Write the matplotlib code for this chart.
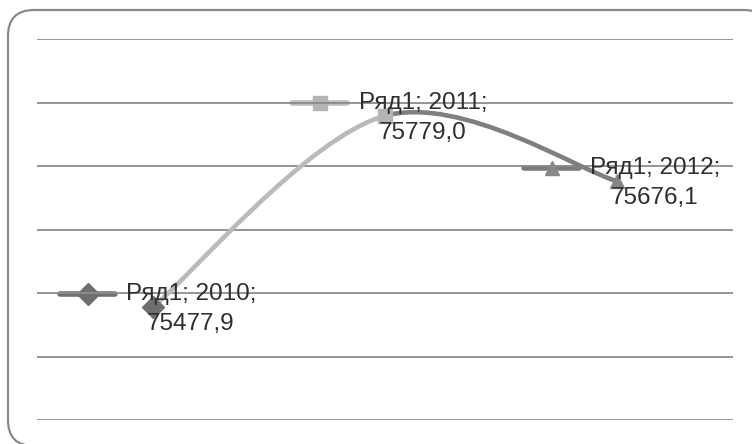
import numpy as np
import matplotlib.pyplot as plt
from matplotlib.path import Path
from matplotlib.patches import PathPatch, FancyBboxPatch
from matplotlib.transforms import offset_copy

# данные
years = ["2010", "2011", "2012"]
values = [75477.9, 75779.0, 75676.1]
value_labels = ["75477,9", "75779,0", "75676,1"]
series_name = "Ряд1"

markers = ["D", "s", "^"]
marker_sizes = [11, 10.5, 10.5]
marker_colors = ["#6e6e6e", "#b4b4b4", "#878787"]
key_colors = ["#707070", "#bdbdbd", "#7c7c7c"]
seg_colors = ["#bababa", "#7f7f7f"]

W, H = 752, 444
fig = plt.figure(figsize=(W / 100, H / 100), dpi=100)

# рамка со скругленными углами
bg = fig.add_axes([0, 0, 1, 1])
bg.set_xlim(0, W)
bg.set_ylim(0, H)
bg.axis("off")
box = FancyBboxPatch((8, -2), 762, 436, boxstyle="round,pad=0,rounding_size=26",
                     fc="white", ec="#8a8a8a", lw=1.6)
bg.add_patch(box)

ax = fig.add_axes([37 / W, (H - 420) / H, (733 - 37) / W, (420 - 39) / H])
ax.set_facecolor("none")
ax.set_xlim(-0.5, 2.5)
ax.set_ylim(75300, 75900)
ax.set_yticks(np.arange(75300, 75901, 100))
ax.set_xticks([])
ax.tick_params(left=False, labelleft=False)
for s in ax.spines.values():
    s.set_visible(False)
ax.grid(axis="y", color="#8c8c8c", lw=1.3)
ax.set_axisbelow(True)

# сглаженная линия (как в Excel)
x = np.arange(len(values), dtype=float)
pts = np.column_stack([x, values])
n = len(pts)
for i in range(n - 1):
    p0 = pts[i - 1] if i > 0 else pts[i]
    p1 = pts[i]
    p2 = pts[i + 1]
    p3 = pts[i + 2] if i + 2 < n else pts[i + 1]
    c1 = p1 + (p2 - p0) / 6
    c2 = p2 - (p3 - p1) / 6
    path = Path([p1, c1, c2, p2], [Path.MOVETO, Path.CURVE4, Path.CURVE4, Path.CURVE4])
    ax.add_patch(PathPatch(path, fc="none", ec=seg_colors[i], lw=3.3, capstyle="round", zorder=2))

for i in range(n):
    ax.plot(x[i], values[i], marker=markers[i], color=marker_colors[i],
            ms=marker_sizes[i], mec=marker_colors[i], zorder=3, ls="none")

    # подпись данных с ключом легенды
    key_t = offset_copy(ax.transData, fig=fig, x=-65, y=13, units="dots")
    kx0 = offset_copy(ax.transData, fig=fig, x=-93, y=13, units="dots")
    kx1 = offset_copy(ax.transData, fig=fig, x=-38, y=13, units="dots")
    p_a = kx0.transform((x[i], values[i]))
    p_b = kx1.transform((x[i], values[i]))
    bg.plot([p_a[0], p_b[0]], [p_a[1], p_b[1]], color=key_colors[i], lw=4,
            solid_capstyle="round", zorder=4)
    pk = key_t.transform((x[i], values[i]))
    bg.plot(pk[0], pk[1], marker=markers[i], color=marker_colors[i],
            ms=marker_sizes[i], zorder=5)

    tt = offset_copy(ax.transData, fig=fig, x=38, y=-2, units="dots")
    ax.text(x[i], values[i], f"{series_name}; {years[i]};\n{value_labels[i]}",
            transform=tt, ha="center", va="center", multialignment="center",
            fontsize=17.5, family="Liberation Sans", color="#2e2e2e",
            linespacing=1.45, zorder=6)

fig.savefig("out.png", dpi=100)
